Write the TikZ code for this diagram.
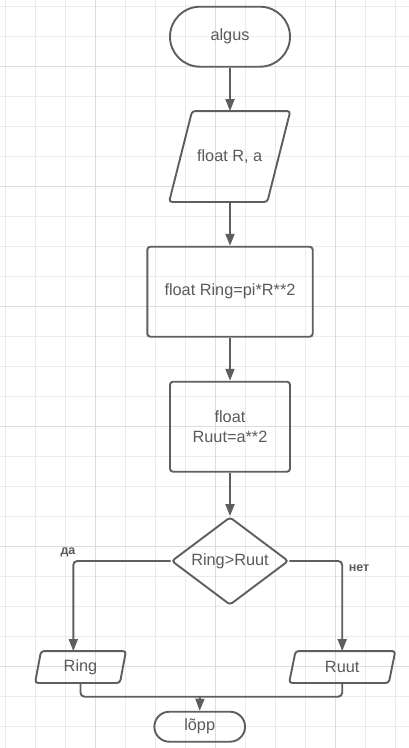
\documentclass[tikz,border=0pt]{standalone}
\usepackage{fontspec}
\setmainfont{Liberation Sans}
\usetikzlibrary{arrows.meta,shapes.geometric}
\definecolor{ln}{HTML}{5E5E5E}
\definecolor{tx}{HTML}{5A5A5A}
\definecolor{gmin}{HTML}{EBEBEB}
\definecolor{gmaj}{HTML}{DDDDDD}
\begin{document}
\begin{tikzpicture}[x=1pt,y=-1pt,
  base/.style={draw=ln, line width=1.9pt, text=tx, font=\fontsize{16.3}{20}\selectfont, inner sep=0pt, align=center},
  term/.style={base, rectangle, rounded corners=#1},
  proc/.style={base, rectangle, rounded corners=3pt},
  io/.style={base, draw=none, rectangle},
  iobox/.style={draw=ln, line width=1.9pt, rounded corners=3pt},
  dec/.style={base, diamond, aspect=1.33, rounded corners=3pt},
  conn/.style={draw=ln, line width=1.9pt, rounded corners=4pt},
  arr/.style={conn, -{Triangle[length=12pt,width=9pt]}},
  lbl/.style={text=tx, font=\fontsize{12.5}{14}\selectfont\bfseries, inner sep=0pt},
]
\useasboundingbox[fill=white] (0,0) rectangle (409,748);
% grid
\foreach \k in {0,...,13} \draw[gmin, line width=1pt] (5.7+30*\k,0) -- (5.7+30*\k,748);
\foreach \k in {0,...,24} \draw[gmin, line width=1pt] (0,6.7+30*\k) -- (409,6.7+30*\k);
\foreach \k in {3,7,11} \draw[gmaj, line width=1.3pt] (5.7+30*\k,0) -- (5.7+30*\k,748);
\foreach \k in {2,6,10,14,18,22} \draw[gmaj, line width=1.3pt] (0,6.7+30*\k) -- (409,6.7+30*\k);

% nodes
\node[term=30pt, minimum width=120pt, minimum height=60pt] (start) at (230,36.7) {algus};
\node[io, minimum width=119.3pt, minimum height=89pt] (inp) at (229.7,156.5) {float R, a};
\draw[iobox] ([xshift=23pt]inp.north west) -- (inp.north east) -- ([xshift=-23pt]inp.south east) -- (inp.south west) -- cycle;
\node[proc, minimum width=165.4pt, minimum height=90pt] (calc1) at (230,291.7) {float Ring=pi*R**2};
\node[proc, minimum width=120pt, minimum height=90pt] (calc2) at (230,426.7) {float\\Ruut=a**2};
\node[dec, minimum width=117pt, minimum height=88pt] (cmp) at (230,561) {Ring>Ruut};
\node[io, minimum width=89pt, minimum height=30pt] (outR) at (80.5,667) {Ring};
\draw[iobox] ([xshift=6pt]outR.north west) -- (outR.north east) -- ([xshift=-6pt]outR.south east) -- (outR.south west) -- cycle;
\node[io, minimum width=104.3pt, minimum height=30pt] (outQ) at (342.2,667) {Ruut};
\draw[iobox] ([xshift=6.5pt]outQ.north west) -- (outQ.north east) -- ([xshift=-6.5pt]outQ.south east) -- (outQ.south west) -- cycle;
\node[term=15pt, minimum width=90.7pt, minimum height=30pt] (stop) at (199.7,726.7) {lõpp};

\node[lbl] (yes) at (68,552) {да};
\node[lbl] (no) at (359,568) {нет};

% connectors
\draw[arr] (start.south) -- (start.south |- inp.north);
\draw[arr] (calc1.north |- inp.south) -- (calc1.north);
\draw[arr] (calc1.south) -- (calc2.north);
\draw[arr] (calc2.south) -- (cmp.north);
\draw[arr] (cmp.west) -| ([xshift=-7.2pt]outR.north);
\draw[arr] (cmp.east) -| (outQ.north);
\coordinate (mj) at (200,696.7);
\draw[conn] (outR.south) |- (mj) -| (outQ.south);
\draw[arr] (mj) -- (stop.north);
\end{tikzpicture}
\end{document}
